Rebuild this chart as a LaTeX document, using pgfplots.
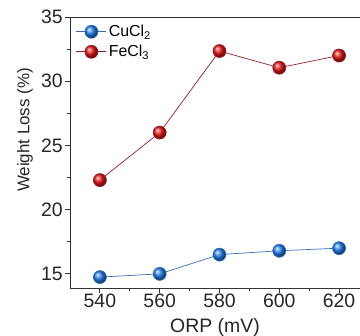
\documentclass[border=0pt]{standalone}
\usepackage{fontspec}
\setmainfont{Liberation Sans}
\usepackage{pgfplots}
\pgfplotsset{compat=1.18}
\definecolor{cublue}{RGB}{40,130,240}
\definecolor{culine}{RGB}{50,110,180}
\definecolor{fered}{RGB}{235,25,25}
\definecolor{feline}{RGB}{150,30,40}
\begin{document}
\begin{tikzpicture}[x=1bp,y=1bp]
\begin{axis}[
  at={(0,0)}, anchor=south west,
  scale only axis, width=290bp, height=271bp,
  xmin=530, xmax=627, ymin=13.9, ymax=35,
  axis lines*=left,
  axis line style={line width=0.9pt, color=black!80},
  xtick={540,560,580,600,620},
  ytick={15,20,25,30,35},
  minor x tick num=1, minor y tick num=1,
  tick align=outside,
  major tick length=5bp, minor tick length=3bp,
  tick style={color=black!80, line width=0.8pt},
  tick label style={font=\fontsize{19.5}{21}\selectfont, color=black!85},
  xticklabel style={inner sep=1bp},
  yticklabel style={inner sep=2bp},
  /pgf/number format/assume math mode=true,
  /pgf/number format/1000 sep={},
  xlabel={ORP (mV)}, ylabel={Weight Loss (\%)},
  xlabel style={font=\fontsize{19.5}{21}\selectfont, color=black!85,
    at={(axis description cs:0.5,0)}, anchor=base, yshift=-44bp},
  ylabel style={font=\fontsize{17}{19}\selectfont, color=black!85,
    at={(axis description cs:0,0.583)}, anchor=center, rotate=0, yshift=45bp},
  legend style={at={(0.01,0.985)}, anchor=north west, draw=none, fill=none,
    font=\fontsize{16}{18}\selectfont, row sep=3bp},
  legend image code/.code={%
    \draw[mark repeat=2,mark phase=2,#1] plot coordinates {(0bp,0bp) (15bp,0bp) (30bp,0bp)};},
  legend cell align=left,
  clip=false,
]
\addplot[culine, line width=0.7pt, mark=ball, mark size=6.5bp, mark options={ball color=cublue}]
  coordinates {(540,14.75) (560,15.0) (580,16.5) (600,16.8) (620,17.0)};
\addlegendentry{CuCl\textsubscript{2}}
\addplot[feline, line width=0.7pt, mark=ball, mark size=6.5bp, mark options={ball color=fered}]
  coordinates {(540,22.3) (560,26.0) (580,32.35) (600,31.05) (620,32.0)};
\addlegendentry{FeCl\textsubscript{3}}
\draw[line width=0.9pt, color=black!80] (rel axis cs:0,1) -- (rel axis cs:1,1);
\end{axis}
\pgfresetboundingbox
\path[use as bounding box] (-70,-48) rectangle (290,288);
\end{tikzpicture}
\end{document}
